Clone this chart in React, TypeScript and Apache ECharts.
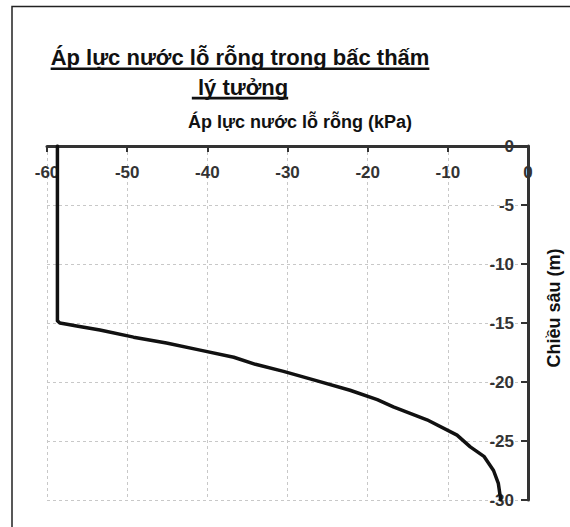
import React, { useEffect, useRef } from "react";
import * as echarts from "echarts";

// Chart texts
const TITLE_LINES = ["Áp lực nước lỗ rỗng trong bấc thấm", " lý tưởng"];
const X_AXIS_NAME = "Áp lực nước lỗ rỗng (kPa)";
const Y_AXIS_NAME = "Chiều sâu (m)";

// Axis ranges
const X_MIN = -60;
const X_MAX = 0;
const X_STEP = 10;
const Y_MIN = -30;
const Y_MAX = 0;
const Y_STEP = 5;

// Pore water pressure profile along the drain (kPa vs depth in m)
const pressure = [
  -58.7, -58.7, -58.4, -57.5, -56.3, -53.4, -49.2, -45.1, -40.9, -36.7, -34.0,
  -30.5, -26.3, -22.2, -18.8, -16.8, -12.6, -8.85, -7.2, -5.5, -4.3, -3.7, -3.4,
];
const depth = [
  0, -14.8, -15.0, -15.1, -15.25, -15.6, -16.2, -16.7, -17.3, -17.9, -18.5,
  -19.1, -19.9, -20.7, -21.5, -22.1, -23.2, -24.5, -25.5, -26.3, -27.5, -28.6,
  -30.0,
];

const FONT = '"Liberation Sans", Arial, sans-serif';

function measure(text: string, size: number): number {
  const ctx = document.createElement("canvas").getContext("2d");
  if (!ctx) return text.length * size * 0.55;
  ctx.font = `bold ${size}px ${FONT}`;
  return ctx.measureText(text).width;
}

export default function App() {
  const ref = useRef<HTMLDivElement>(null);

  useEffect(() => {
    if (!ref.current) return;
    const chart = echarts.init(ref.current, null, { renderer: "svg" });

    const titleSize = 22;
    const titleCenter = 240;
    const titleBaselineMid = [57.5, 87.5];
    const underlineY = [67.4, 96.8];

    const titleGraphics: any[] = [];
    TITLE_LINES.forEach((line, i) => {
      const full = measure(line, titleSize);
      const lead = line.length - line.trimStart().length;
      const leadW = lead ? measure(line.slice(0, lead), titleSize) : 0;
      const left = titleCenter - full / 2;
      titleGraphics.push({
        type: "text",
        x: left + leadW,
        y: titleBaselineMid[i],
        style: {
          text: line.trimStart(),
          fill: "#111",
          fontSize: titleSize,
          fontWeight: "bold",
          fontFamily: FONT,
          align: "left",
          verticalAlign: "middle",
        },
      });
      titleGraphics.push({
        type: "rect",
        shape: { x: left, y: underlineY[i], width: full, height: 2.6 },
        style: { fill: "#111" },
      });
    });

    const data = pressure.map((p, i) => [p, depth[i]]);

    const tickLabel = {
      inside: true,
      color: "#333",
      fontSize: 17,
      fontWeight: "bold",
      fontFamily: FONT,
    };
    const gridLine = {
      show: true,
      lineStyle: { color: "#c8c8c8", type: [3, 3], width: 1 },
    };

    chart.setOption({
      animation: false,
      backgroundColor: "#fff",
      grid: { left: 47, right: 42, top: 146, bottom: 27 },
      xAxis: {
        type: "value",
        position: "top",
        min: X_MIN,
        max: X_MAX,
        interval: X_STEP,
        axisLine: { show: true, onZero: false, lineStyle: { color: "#333", width: 3 } },
        axisTick: { show: true, inside: true, length: 6, lineStyle: { color: "#333", width: 2 } },
        axisLabel: { ...tickLabel, margin: 18 },
        splitLine: gridLine,
      },
      yAxis: {
        type: "value",
        position: "right",
        min: Y_MIN,
        max: Y_MAX,
        interval: Y_STEP,
        axisLine: { show: true, onZero: false, lineStyle: { color: "#333", width: 3 } },
        axisTick: { show: true, inside: true, length: 7, lineStyle: { color: "#333", width: 2 } },
        axisLabel: { ...tickLabel, margin: 14 },
        splitLine: gridLine,
      },
      series: [
        {
          type: "line",
          data,
          showSymbol: false,
          smooth: false,
          lineStyle: { color: "#111", width: 3.5, join: "round", cap: "round" },
          z: 5,
        },
      ],
      graphic: [
        {
          type: "rect",
          shape: { x: 12, y: 6.5, width: 700, height: 700 },
          style: { fill: "none", stroke: "#222", lineWidth: 1.5 },
          silent: true,
        },
        ...titleGraphics,
        {
          type: "text",
          x: 300,
          y: 122,
          style: {
            text: X_AXIS_NAME,
            fill: "#111",
            fontSize: 18,
            fontWeight: "bold",
            fontFamily: FONT,
            align: "center",
            verticalAlign: "middle",
          },
        },
        {
          type: "text",
          x: 554,
          y: 308,
          rotation: Math.PI / 2,
          style: {
            text: Y_AXIS_NAME,
            fill: "#111",
            fontSize: 18,
            fontWeight: "bold",
            fontFamily: FONT,
            align: "center",
            verticalAlign: "middle",
          },
        },
      ],
    });

    return () => chart.dispose();
  }, []);

  return (
    <div
      ref={ref}
      style={{ position: "fixed", left: 0, top: 0, width: 570, height: 527, background: "#fff" }}
    />
  );
}
